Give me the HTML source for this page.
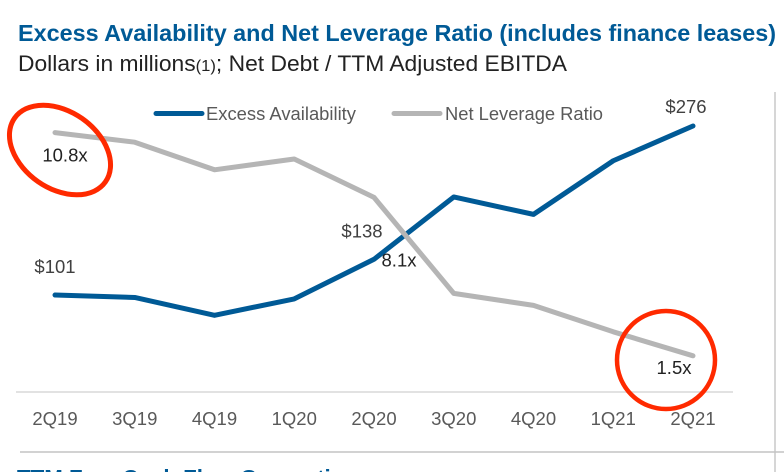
<!DOCTYPE html>
<html lang="en">
<head>
<meta charset="utf-8">
<title>Excess Availability and Net Leverage Ratio</title>
<style>
html,body{margin:0;padding:0;background:#fff;}
body{width:784px;height:472px;overflow:hidden;}
svg{display:block;font-family:"Liberation Sans",sans-serif;}
</style>
</head>
<body>
<svg id="chart" width="784" height="472" viewBox="0 0 784 472" xmlns="http://www.w3.org/2000/svg">
  <text x="18" y="41" font-size="23" font-weight="700" fill="#005a96" textLength="758" lengthAdjust="spacingAndGlyphs">Excess Availability and Net Leverage Ratio (includes finance leases)</text>
  <text x="18" y="71" font-size="22" fill="#222222" textLength="549" lengthAdjust="spacingAndGlyphs">Dollars in millions<tspan font-size="16">(1)</tspan>; Net Debt / TTM Adjusted EBITDA</text>
  <line x1="775" y1="92" x2="775" y2="472" stroke="#c9c9c9" stroke-width="1.5"/>
  <line x1="20" y1="452" x2="784" y2="452" stroke="#c4c4c4" stroke-width="1.5"/>
  <line x1="16" y1="392" x2="733" y2="392" stroke="#d9d9d9" stroke-width="1.5"/>
  <g>
    <line x1="156" y1="113.5" x2="202" y2="113.5" stroke="#005a96" stroke-width="5" stroke-linecap="round"/>
    <text x="206" y="120" font-size="18.5" fill="#595959" textLength="150" lengthAdjust="spacingAndGlyphs">Excess Availability</text>
    <line x1="394" y1="113.5" x2="440" y2="113.5" stroke="#b5b5b5" stroke-width="5" stroke-linecap="round"/>
    <text x="445" y="120" font-size="18.5" fill="#595959" textLength="158" lengthAdjust="spacingAndGlyphs">Net Leverage Ratio</text>
  </g>
  <g id="ticks"></g>
  <g id="series"></g>
  <g id="labels"></g>
  <ellipse cx="60" cy="150" rx="55.5" ry="38.5" transform="rotate(35 60 150)" fill="none" stroke="#ff2a00" stroke-width="5"/>
  <circle cx="666" cy="360" r="49" fill="none" stroke="#ff2a00" stroke-width="4.5"/>
  <text x="17" y="486" font-size="23" font-weight="700" fill="#005a96" textLength="341" lengthAdjust="spacingAndGlyphs">TTM Free Cash Flow Generation</text>
</svg>
<script>
const categories = ["2Q19", "3Q19", "4Q19", "1Q20", "2Q20", "3Q20", "4Q20", "1Q21", "2Q21"];
const excessAvailability = [101, 98.5, 80, 97, 138, 202.5, 184.5, 240, 276];
const netLeverageRatio = [10.8, 10.4, 9.25, 9.7, 8.1, 4.1, 3.6, 2.5, 1.5];

const NS = "http://www.w3.org/2000/svg";
const xAt = i => 55 + i * (693 - 55) / (categories.length - 1);
const yExcess = v => 392.6 - v * 0.966;
const yLeverage = v => 391.8 - v * 24;

const ticksGroup = document.getElementById("ticks");
const seriesGroup = document.getElementById("series");
const labelsGroup = document.getElementById("labels");

categories.forEach((c, i) => {
  const t = document.createElementNS(NS, "text");
  t.setAttribute("x", xAt(i));
  t.setAttribute("y", 425);
  t.setAttribute("font-size", "18.5");
  t.setAttribute("fill", "#595959");
  t.setAttribute("text-anchor", "middle");
  
  
  t.textContent = c;
  ticksGroup.appendChild(t);
});

function drawLine(values, yFn, color) {
  const p = document.createElementNS(NS, "polyline");
  p.setAttribute("points", values.map((v, i) => xAt(i) + "," + yFn(v)).join(" "));
  p.setAttribute("fill", "none");
  p.setAttribute("stroke", color);
  p.setAttribute("stroke-width", "5");
  p.setAttribute("stroke-linecap", "round");
  p.setAttribute("stroke-linejoin", "round");
  return p;
}

const excessLine = drawLine(excessAvailability, yExcess, "#005a96");


seriesGroup.appendChild(excessLine);

const leverageLine = drawLine(netLeverageRatio, yLeverage, "#b5b5b5");


seriesGroup.appendChild(leverageLine);

function addLabel(text, x, y, fill) {
  const t = document.createElementNS(NS, "text");
  t.setAttribute("x", x);
  t.setAttribute("y", y);
  t.setAttribute("font-size", "18.5");
  t.setAttribute("fill", fill);
  t.setAttribute("text-anchor", "middle");
  
  
  t.textContent = text;
  labelsGroup.appendChild(t);
}

const money = v => "$" + Math.round(v);
const times = v => v.toFixed(1) + "x";
addLabel(money(excessAvailability[0]), xAt(0), yExcess(excessAvailability[0]) - 22, "#404040");
addLabel(money(excessAvailability[4]), xAt(4) - 12, yExcess(excessAvailability[4]) - 22, "#404040");
addLabel(money(excessAvailability[8]), xAt(8) - 7, yExcess(excessAvailability[8]) - 13, "#404040");
addLabel(times(netLeverageRatio[0]), xAt(0) + 10, yLeverage(netLeverageRatio[0]) + 29, "#222222");
addLabel(times(netLeverageRatio[4]), xAt(4) + 25, yLeverage(netLeverageRatio[4]) + 69, "#222222");
addLabel(times(netLeverageRatio[8]), xAt(8) - 19, yLeverage(netLeverageRatio[8]) + 18, "#222222");
</script>
</body>
</html>
